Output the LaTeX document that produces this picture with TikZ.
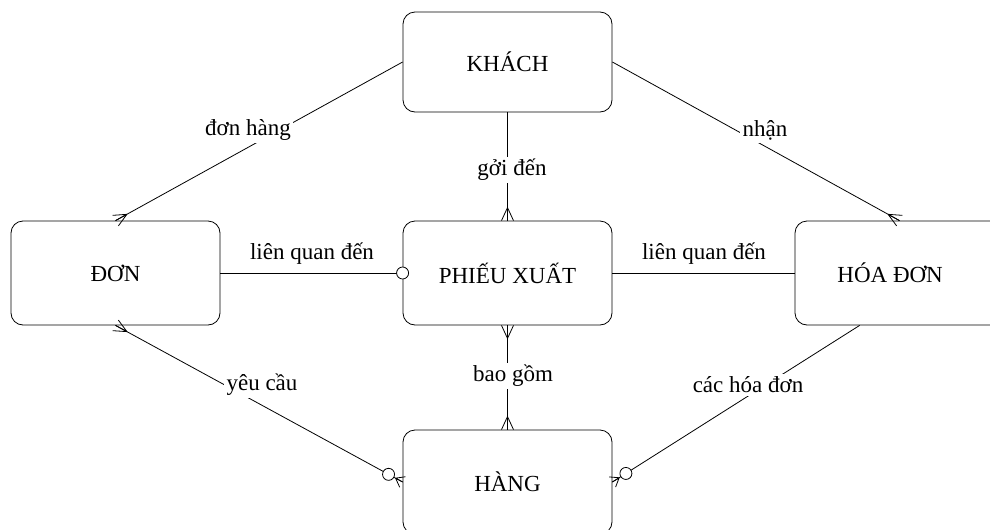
\documentclass[tikz,border=0pt]{standalone}
\usepackage{fontspec}
\setmainfont{Liberation Serif}
\usetikzlibrary{calc}
% crow's foot at #2, the line coming from #3; #1 = length
\newcommand{\crowft}[3][9.75pt]{%
  \draw[conn] ($(#2)!#1!(#3)$) -- (#2)
    ($(#2)!#1!(#3)$) -- ($(#2)!4.5pt!90:(#3)$)
    ($(#2)!#1!(#3)$) -- ($(#2)!4.5pt!-90:(#3)$);}
\begin{document}
\begin{tikzpicture}[x=0.75pt,y=-0.75pt,
  ent/.style={draw, line width=0.6pt, rounded corners=9pt, minimum width=156.75pt,
    minimum height=78pt, inner sep=0pt, font=\fontsize{17.25}{20}\selectfont},
  lab/.style={font=\fontsize{17.25}{20}\selectfont, inner sep=2pt, fill=white},
  conn/.style={line width=0.6pt},
  ring/.style={draw, line width=0.6pt, fill=white}]
\useasboundingbox (0,0) rectangle (990,529);
\begin{scope}
\clip (0,0) rectangle (990,529);
\node[ent, minimum height=75pt] (khach) at (507.5,62) {KHÁCH};
\node[ent] (don) at (115.5,273) {ĐƠN};
\node[ent] (phieu) at (507.5,273) {PHIẾU XUẤT};
\node[ent] (hoadon) at (899.5,273) {\hspace*{-14pt}HÓA ĐƠN};
\node[ent] (hang) at (507.5,482) {HÀNG};
\end{scope}
\coordinate (hdb) at ($(hoadon.south west)!0.31!(hoadon.south east)$);
% connectors
\draw[conn] (khach.west) -- (don.north);
\crowft{don.north}{khach.west}
\draw[conn] (khach.south) -- (phieu.north);
\crowft{phieu.north}{khach.south}
\draw[conn] (khach.east) -- (hoadon.north);
\crowft{hoadon.north}{khach.east}
\draw[conn] (don.east) -- (phieu.west);
\draw[ring] (phieu.west) circle (4.5pt);
\draw[conn] (phieu.east) -- (hoadon.west);
\draw[conn] (phieu.south) -- (hang.north);
\crowft{phieu.south}{hang.north}
\crowft{hang.north}{phieu.south}
\draw[conn] (don.south) -- (hang.west);
\crowft{don.south}{hang.west}
\crowft[6pt]{hang.west}{don.south}
\draw[ring] ($(hang.west)!12pt!(don.south)$) circle (4.5pt);
\draw[conn] (hdb) -- (hang.east);
\crowft[6pt]{hang.east}{hdb}
\draw[ring] ($(hang.east)!12pt!(hdb)$) circle (4.5pt);
% labels
\node[lab] (l1) at (248,130) {đơn hàng};
\node[lab] (l2) at (765,130) {nhận};
\node[lab] (l3) at (512,170) {gởi đến};
\node[lab, fill=none] (l4) at (312,254) {liên quan đến};
\node[lab, fill=none] (l5) at (704,254) {liên quan đến};
\node[lab] (l6) at (262,385) {yêu cầu};
\node[lab] (l7) at (513,376) {bao gồm};
\node[lab] (l8) at (748,385) {các hóa đơn};
\end{tikzpicture}
\end{document}
